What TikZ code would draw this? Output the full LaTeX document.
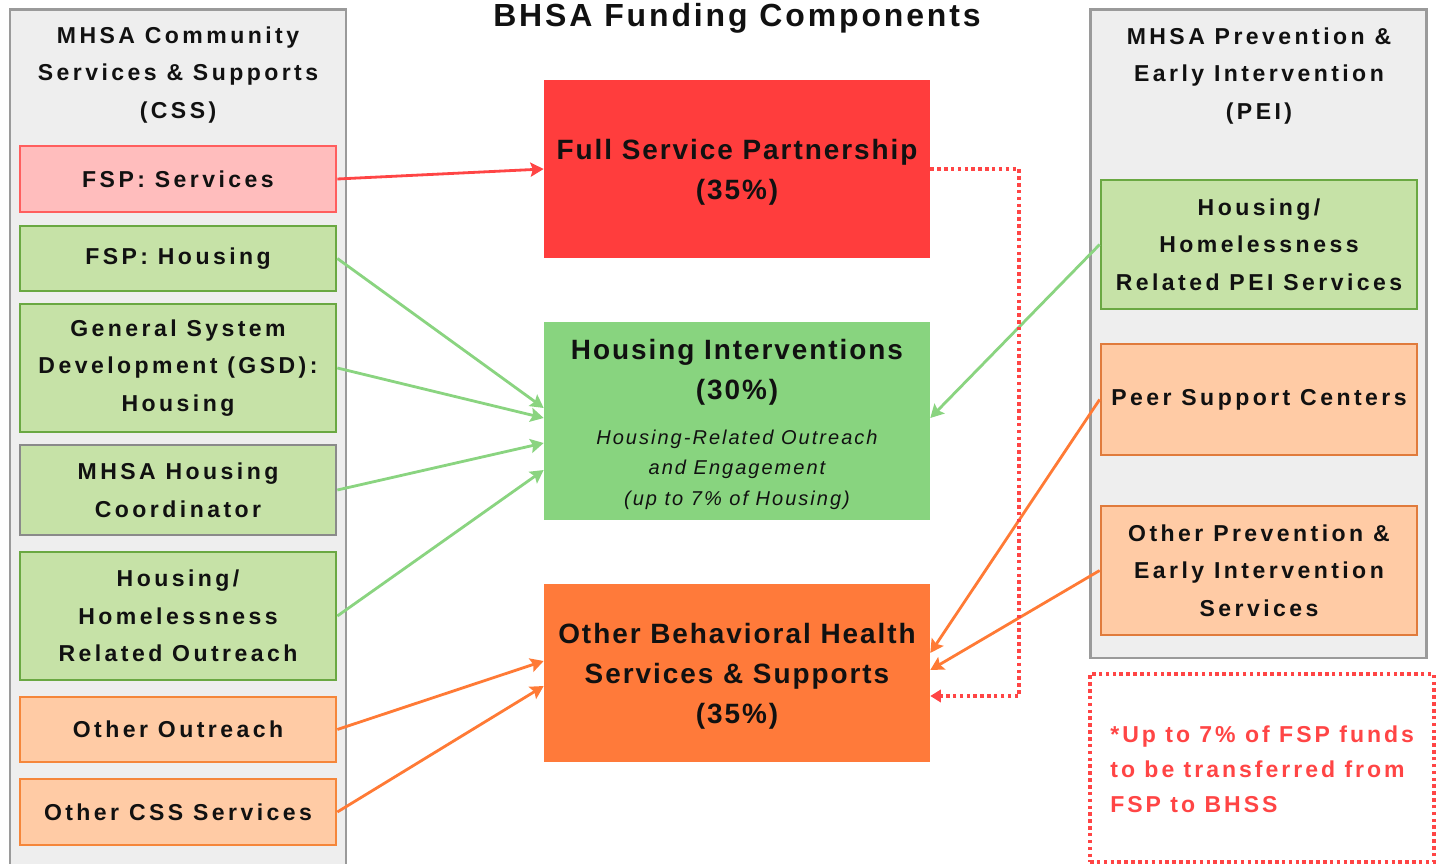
\documentclass[tikz,border=0pt]{standalone}
\usepackage{fontspec}
\setmainfont{Liberation Sans}
\newfontfamily\lblfont{Liberation Sans}[LetterSpace=15]
\newfontfamily\notefont{Liberation Sans}[LetterSpace=13]
\newfontfamily\ctrfont{Liberation Sans}[LetterSpace=7]
\newfontfamily\ttlfont{Liberation Sans}[LetterSpace=9]
\newfontfamily\itlfont{Liberation Sans}[LetterSpace=10]
\usetikzlibrary{arrows.meta,calc}
\definecolor{panelfill}{HTML}{EEEEEE}
\definecolor{panelline}{HTML}{9A9A9A}
\definecolor{pinkfill}{HTML}{FFBDBD}
\definecolor{pinkline}{HTML}{FF5E5E}
\definecolor{greenfill}{HTML}{C6E2A7}
\definecolor{greenline}{HTML}{6AA842}
\definecolor{coordline}{HTML}{8A8A8A}
\definecolor{orangefill}{HTML}{FFCBA5}
\definecolor{orangeline}{HTML}{F5863A}
\definecolor{orangelineR}{HTML}{E07B3C}
\definecolor{fspfill}{HTML}{FF3D3D}
\definecolor{hifill}{HTML}{88D47F}
\definecolor{bhssfill}{HTML}{FF7A3A}
\definecolor{redarrow}{HTML}{FF4545}
\definecolor{greenarrow}{HTML}{8AD480}
\definecolor{orangearrow}{HTML}{FF7A35}
\definecolor{txt}{HTML}{111111}
\def\px{0.569pt}
\newcommand{\ctrstrut}{\rule{0pt}{15pt}}
\begin{document}
\begin{tikzpicture}[x=0.02cm,y=-0.02cm,
  panel/.style={fill=panelfill, draw=panelline, line width=1.7pt},
  lbl/.style={font=\lblfont\fontsize{13.1}{21.4}\selectfont\bfseries, text=txt, align=center},
  box/.style={lbl, line width=1.6pt, inner sep=0pt, minimum width=316*\px},
  pinkbox/.style={box, fill=pinkfill, draw=pinkline},
  greenbox/.style={box, fill=greenfill, draw=greenline},
  graybox/.style={box, fill=greenfill, draw=coordline},
  orangebox/.style={box, fill=orangefill, draw=orangeline},
  orangeboxR/.style={box, fill=orangefill, draw=orangelineR},
  ctrbox/.style={inner sep=0pt, minimum width=386*\px, text=txt, align=center,
     font=\ctrfont\fontsize{15.9}{22.9}\selectfont\bfseries},
  conn/.style={line width=1.6pt, -{Stealth[length=7.5pt,width=8pt,inset=1.3pt]}},
  redconn/.style={conn, draw=redarrow},
  greenconn/.style={conn, draw=greenarrow},
  orangeconn/.style={conn, draw=orangearrow},
  dotstyle/.style={line width=2pt, draw=redarrow, dash pattern=on 2pt off 1.9pt},
  dotconn/.style={dotstyle, -{Triangle[length=6pt,width=7pt]}}
]
\useasboundingbox (0,0) rectangle (1437,864);
\clip (0,0) rectangle (1437,864);

% panels
\draw[panel] (10,10) rectangle (346,900);
\draw[panel] (1090,10) rectangle (1426,658);

\node[lbl] (cssh) at (178,75) {MHSA Community\\Services \& Supports\\(CSS)};
\node[lbl] (peih) at (1259,76) {MHSA Prevention \&\\Early Intervention\\(PEI)};

% title
\node[font=\ttlfont\fontsize{18.2}{22}\selectfont\bfseries, text=txt, anchor=base] (title) at (737,27) {BHSA Funding Components};

% left boxes
\node[pinkbox, minimum height=66*\px] (fspS) at (178,179) {FSP: Services};
\node[greenbox, minimum height=65*\px] (fspH) at (178,258.5) {FSP: Housing};
\node[greenbox, minimum height=128*\px] (gsd) at (178,368) {General System\\Development (GSD):\\Housing};
\node[graybox, minimum height=90*\px] (coord) at (178,490) {MHSA Housing\\Coordinator};
\node[greenbox, minimum height=128*\px] (hro) at (178,616) {Housing/\\Homelessness\\Related Outreach};
\node[orangebox, minimum height=65*\px] (oo) at (178,729.5) {Other Outreach};
\node[orangebox, minimum height=66*\px] (ocss) at (178,812) {Other CSS Services};

% right boxes
\node[greenbox, minimum height=129*\px] (peiH) at (1259,244.5) {Housing/\\Homelessness\\Related PEI Services};
\node[orangeboxR, minimum height=111*\px] (peer) at (1259,399.5) {Peer Support Centers};
\node[orangeboxR, minimum height=129*\px] (opei) at (1259,570.5) {Other Prevention \&\\Early Intervention\\Services};

% center boxes
\node[ctrbox, fill=fspfill, minimum height=178*\px] (fsp) at (737,169) {\ctrstrut Full Service Partnership\\(35\%)};
\node[ctrbox, fill=hifill, minimum height=198*\px] (hi) at (737,421) {\ctrstrut Housing Interventions\\(30\%)\\[3pt]
  {\itlfont\fontsize{11.4}{17.1}\selectfont\mdseries\itshape Housing-Related Outreach}\\[-5.7pt]
  {\itlfont\fontsize{11.4}{17.1}\selectfont\mdseries\itshape and Engagement}\\[-5.7pt]
  {\itlfont\fontsize{11.4}{17.1}\selectfont\mdseries\itshape (up to 7\% of Housing)}};
\node[ctrbox, fill=bhssfill, minimum height=178*\px] (bhss) at (737,673) {\ctrstrut Other Behavioral Health\\Services \& Supports\\(35\%)};

% note
\node[dotstyle, minimum width=344*\px, minimum height=188*\px] (note) at (1262,768) {};
\node[font=\notefont\fontsize{13.1}{19.9}\selectfont\bfseries, text=redarrow, align=left, anchor=west, inner sep=0pt] (notetxt) at (1110,769) {*Up to 7\% of FSP funds\\to be transferred from\\FSP to BHSS};

% connectors
\draw[redconn] (fspS.east) -- (fsp.west);
\draw[greenconn] (fspH.east) -- ($(hi.west)+(0,-13)$);
\draw[greenconn] (gsd.east) -- ($(hi.west)+(0,-3)$);
\draw[greenconn] (coord.east) -- ($(hi.west)+(0,22)$);
\draw[greenconn] (hro.east) -- ($(hi.west)+(0,49)$);
\draw[greenconn] (peiH.west) -- ($(hi.east)+(0,-3)$);
\draw[orangeconn] (peer.west) -- ($(bhss.east)+(0,-20)$);
\draw[orangeconn] (opei.west) -- ($(bhss.east)+(0,-3)$);
\draw[orangeconn] (oo.east) -- ($(bhss.west)+(0,-12)$);
\draw[orangeconn] (ocss.east) -- ($(bhss.west)+(0,13)$);
\coordinate (dtop) at (1019,169);
\coordinate (dbot) at (1019,696);
\draw[dotconn] (fsp.east) -- (dtop) -- (dbot) -- (bhss.east |- dbot);
\end{tikzpicture}
\end{document}
